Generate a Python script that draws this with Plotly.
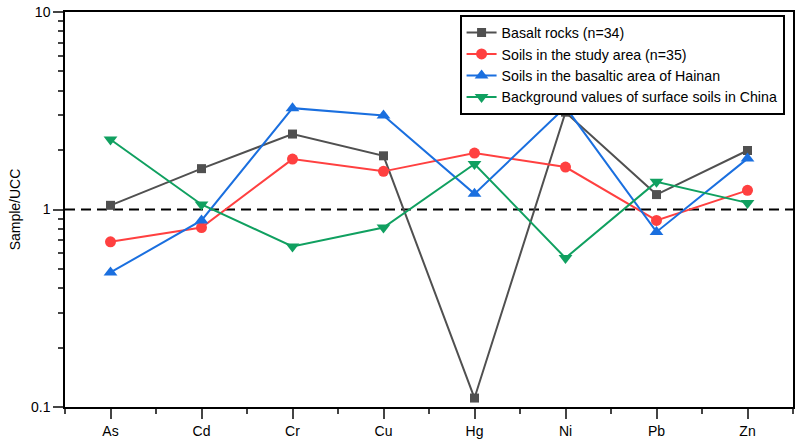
import plotly.graph_objects as go

categories = ["As", "Cd", "Cr", "Cu", "Hg", "Ni", "Pb", "Zn"]
basalt = [1.05, 1.61, 2.41, 1.87, 0.111, 3.11, 1.19, 1.99]
soils_study = [0.686, 0.81, 1.80, 1.56, 1.93, 1.64, 0.88, 1.25]
soils_hainan = [0.48, 0.88, 3.26, 2.99, 1.20, 3.30, 0.77, 1.81]
background = [2.26, 1.06, 0.65, 0.81, 1.70, 0.568, 1.38, 1.08]
names = ["Basalt rocks (n=34)", "Soils in the study area (n=35)",
         "Soils in the basaltic area of Hainan",
         "Background values of surface soils in China"]
y_ticks = [0.1, 1, 10]
y_tick_labels = ["0.1", "1", "10"]

xs = list(range(len(categories)))
font = "Arial, Liberation Sans, sans-serif"

fig = go.Figure()

# reference line at 1
fig.add_trace(go.Scatter(x=[-0.5, len(categories) - 0.5], y=[1, 1], mode="lines",
                         line=dict(color="black", width=2, dash="10px,6px"),
                         showlegend=False, hoverinfo="skip"))

styles = [
    (basalt, "#505050", "square", 9),
    (soils_study, "#FF4040", "circle", 11),
    (soils_hainan, "#1A6FDF", "triangle-up", 12),
    (background, "#10A060", "triangle-down", 12),
]
for (vals, color, sym, size), name in zip(styles, names):
    fig.add_trace(go.Scatter(x=xs, y=vals, mode="lines+markers", name=name,
                             line=dict(color=color, width=2),
                             marker=dict(color=color, symbol=sym, size=size)))

minor_y = [m * 10 ** e for e in (-1, 0) for m in range(2, 10)]
fig.update_layout(
    width=799, height=446,
    margin=dict(l=65, r=4, t=10, b=39),
    paper_bgcolor="white", plot_bgcolor="white",
    font=dict(family=font, size=14, color="black"),
    legend=dict(x=0.542, y=0.993, xanchor="left", yanchor="top",
                bgcolor="white", bordercolor="black", borderwidth=2,
                font=dict(size=14.2), tracegroupgap=0, itemwidth=30),
    xaxis=dict(range=[-0.5, len(categories) - 0.5], tickmode="array",
               tickvals=xs, ticktext=categories, ticks="outside", ticklen=10,
               tickwidth=1.5, showline=True, linecolor="black", linewidth=1.5,
               mirror=True, showgrid=False, zeroline=False,
               tickfont=dict(size=14),
               minor=dict(ticks="outside", ticklen=5, tickwidth=1.5,
                          tickvals=[i - 0.5 for i in range(len(categories) + 1)],
                          showgrid=False)),
    yaxis=dict(type="log", range=[-1, 1], tickmode="array", tickvals=y_ticks,
               ticktext=y_tick_labels, ticks="outside", ticklen=10, tickwidth=1.5,
               showline=True, linecolor="black", linewidth=1.5, mirror=True,
               showgrid=False, zeroline=False, tickfont=dict(size=14),
               title=dict(text="Sample/UCC", standoff=7, font=dict(size=14)),
               minor=dict(ticks="outside", ticklen=5, tickwidth=1.5,
                          tickvals=minor_y, showgrid=False)),
)

fig.write_html("out.html")
